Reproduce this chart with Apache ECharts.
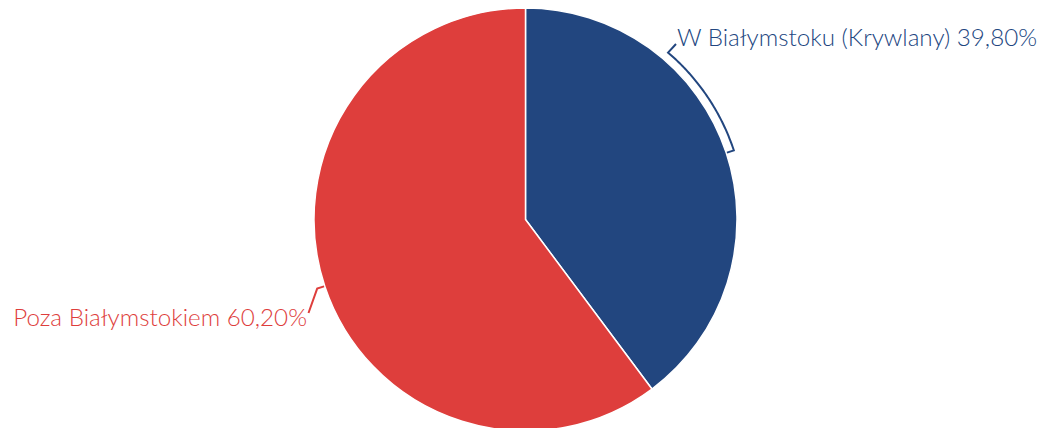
<!DOCTYPE html>
<html>
<head>
<meta charset="utf-8">
<script src="https://cdn.jsdelivr.net/npm/echarts@6/dist/echarts.min.js"></script>
<style>
html,body{margin:0;padding:0;background:#fff;}
#chart{width:1037px;height:428px;}
</style>
</head>
<body>
<div id="chart"></div>
<script>
const categories = ['W Białymstoku (Krywlany)', 'Poza Białymstokiem'];
const values = [39.80, 60.20];
const valueLabels = ['39,80%', '60,20%'];
const colors = ['#22467f', '#de3e3c'];

const chart = echarts.init(document.getElementById('chart'), null, {renderer: 'svg'});

const CX = 525.5, CY = 219.5, R = 211.5;
const FONT = 'Lato, "Open Sans", sans-serif';

// geometry helpers (clockwise degrees from top)
function pt(theta, r) {
  const a = theta * Math.PI / 180;
  return [CX + r * Math.sin(a), CY - r * Math.cos(a)];
}
const total = values.reduce((a, b) => a + b, 0);
const mids = [];
let acc = 0;
values.forEach(v => {
  const sweep = v / total * 360;
  mids.push(acc + sweep / 2);
  acc += sweep;
});

// blue connector: out from slice edge, along an arc, then to label
const bluePts = [];
bluePts.push(pt(mids[0], R));
const arcR = 219.5, arcEnd = 40.5;
for (let t = mids[0]; t >= arcEnd; t -= 0.5) bluePts.push(pt(t, arcR));
bluePts.push(pt(arcEnd, arcR));
bluePts.push([676, 44]);

// red connector
const redPts = [pt(mids[1], R), pt(mids[1], R + 8), [308.5, 313]];

const option = {
  animation: false,
  series: [{
    type: 'pie',
    center: [CX, CY],
    radius: [0, R],
    startAngle: 90,
    clockwise: true,
    data: categories.map((c, i) => ({
      name: c,
      value: values[i],
      itemStyle: {color: colors[i]},
      label: {color: colors[i]}
    })),
    itemStyle: {borderColor: '#ffffff', borderWidth: 1.5},
    label: {
      show: true,
      position: 'outside',
      fontFamily: FONT,
      fontSize: 24.2,
      fontWeight: 300,
      overflow: 'none',
      formatter: p => p.name + ' ' + valueLabels[p.dataIndex]
    },
    labelLine: {show: false},
    labelLayout: function (params) {
      if (params.dataIndex === 0) {
        return {x: 677, y: 36, align: 'left', verticalAlign: 'middle'};
      }
      return {x: 307, y: 316, align: 'right', verticalAlign: 'middle'};
    },
    emphasis: {disabled: true}
  }],
  graphic: [
    {type: 'polyline', shape: {points: bluePts}, style: {stroke: colors[0], lineWidth: 2, fill: null}, silent: true},
    {type: 'polyline', shape: {points: redPts}, style: {stroke: colors[1], lineWidth: 2, fill: null}, silent: true}
  ]
};
chart.setOption(option);
</script>
</body>
</html>
